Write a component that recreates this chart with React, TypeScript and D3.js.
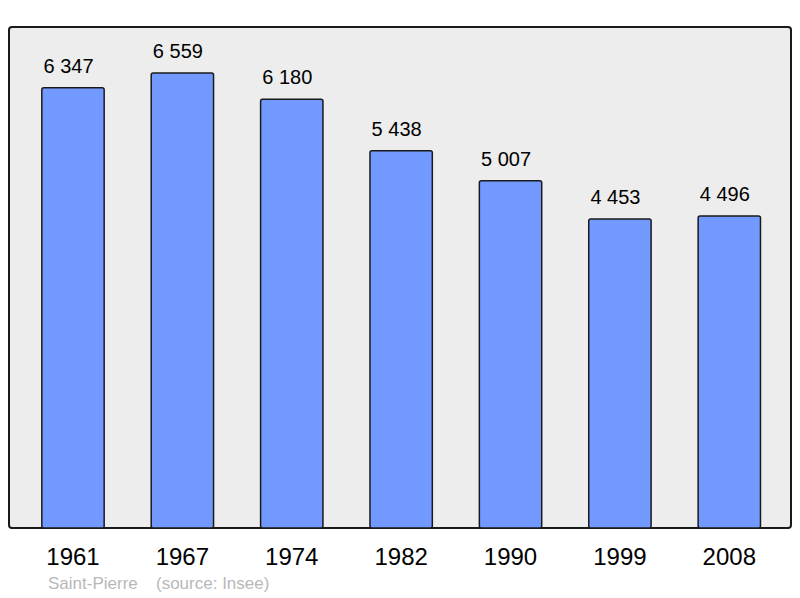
import React from 'react'
import * as d3 from 'd3'

const years = ['1961', '1967', '1974', '1982', '1990', '1999', '2008']
const population = [6347, 6559, 6180, 5438, 5007, 4453, 4496]
const commune = 'Saint-Pierre'
const source = '(source: Insee)'

const width = 800
const height = 598
const frame = {left: 9, top: 27, right: 791, bottom: 528}
const font = "'Liberation Sans', Arial, sans-serif"

const fr = d3.formatLocale({decimal: ',', thousands: '\u00a0', grouping: [3], currency: ['', '']})
const fmt = fr.format(',d')

export default function App () {
  // bands over the plot width
  const x = d3.scaleBand<string>()
    .domain(years)
    .range([18.3, 784])
    .paddingInner(0.43)
    .paddingOuter(0.215)

  const y = d3.scaleLinear()
    .domain([0, 7222])
    .range([frame.bottom, frame.top])

  return (
    <svg width={width} height={height} style={{position: 'absolute', left: 0, top: 0}} fontFamily={font}>
      <rect x={0} y={0} width={width} height={height} fill='#ffffff' />
      <rect
        x={frame.left} y={frame.top}
        width={frame.right - frame.left} height={frame.bottom - frame.top}
        rx={3} fill='#ededed' stroke='#1a1a1a' strokeWidth={2}
      />
      {years.map((yr, i) => {
        const v = population[i]
        const bx = x(yr) as number
        const cx = bx + x.bandwidth() / 2
        return (
          <g key={yr}>
            <rect
              x={bx} y={y(v)}
              width={x.bandwidth()} height={frame.bottom - y(v)}
              rx={2} fill='#7299ff' stroke='#1a1a1a' strokeWidth={1.5}
            />
            <text x={cx - 4.5} y={y(v) - 15} textAnchor='middle' fontSize={20} fill='#000'>{fmt(v)}</text>
            <text x={cx} y={565} textAnchor='middle' fontSize={24} fill='#000'>{yr}</text>
          </g>
        )
      })}
      <text x={48} y={589} fontSize={17} fill='#b8b8b8'>{commune}</text>
      <text x={156} y={589} fontSize={17} fill='#b8b8b8'>{source}</text>
    </svg>
  )
}
